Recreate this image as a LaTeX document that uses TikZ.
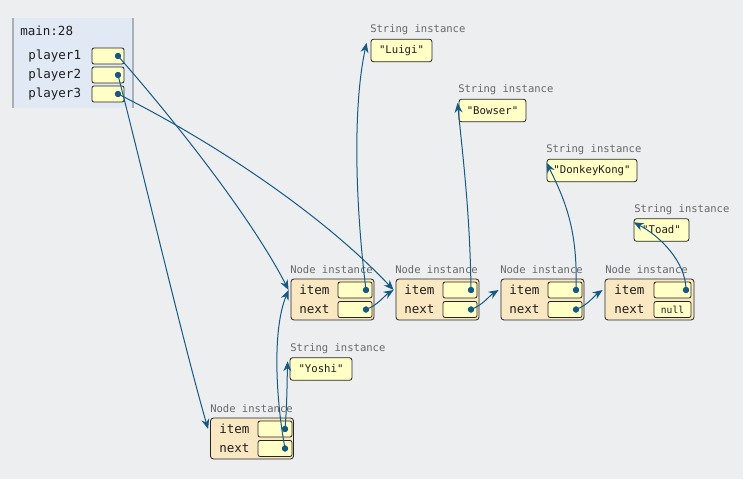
\documentclass[tikz,border=0pt]{standalone}
\usepackage{fontspec}
\setmonofont{DejaVu Sans Mono}
\usetikzlibrary{arrows.meta}
\definecolor{bg}{HTML}{EDEEF0}
\definecolor{framefill}{HTML}{E1E9F5}
\definecolor{frameline}{HTML}{A9B0B8}
\definecolor{valfill}{HTML}{FFFFC6}
\definecolor{objfill}{HTML}{FAE8C2}
\definecolor{ptrc}{HTML}{145A86}
\definecolor{graylbl}{HTML}{686868}
\definecolor{txt}{HTML}{1E1E1E}
\begin{document}
\begin{tikzpicture}[x=0.75pt,y=-0.75pt,
  every node/.style={text=txt},
  varbox/.style={draw=black!85, fill=valfill, rounded corners=1.5pt, minimum width=24pt, minimum height=12pt, inner sep=0pt, line width=0.6pt},
  objbox/.style={draw=black!85, fill=objfill, rounded corners=2.2pt, minimum width=62.25pt, minimum height=30.75pt, inner sep=0pt, line width=0.6pt},
  fieldbox/.style={draw=black!85, fill=valfill, rounded corners=1.5pt, minimum width=25.5pt, minimum height=12pt, inner sep=0pt, line width=0.6pt},
  strbox/.style={draw=black!85, fill=valfill, rounded corners=2pt, minimum height=17pt, inner sep=0pt, line width=0.6pt, font=\ttfamily\fontsize{8}{10}\selectfont},
  graylabel/.style={text=graylbl, anchor=west, inner sep=0pt, font=\ttfamily\fontsize{7.9}{10}\selectfont},
  biglabel/.style={anchor=west, inner sep=0pt, font=\ttfamily\fontsize{9.4}{11}\selectfont},
  ptrdot/.style={circle, fill=ptrc, inner sep=0pt, minimum size=4.6pt},
  ptr/.style={draw=ptrc, line width=0.75pt, -{Stealth[length=7.5pt,width=6pt]}}
]
\useasboundingbox[fill=bg] (0,0) rectangle (743,479);

% frame
\fill[framefill] (13,18) rectangle (133,108);
\draw[frameline, line width=0.8pt] (13,18) -- (13,108);
\draw[frameline, line width=0.8pt] (133,18) -- (133,108);
\node[biglabel] (ftitle) at (20,31) {main:28};
\node[biglabel] (l1) at (28,56) {player1};
\node[biglabel] (l2) at (28,75) {player2};
\node[biglabel] (l3) at (28,94) {player3};
\node[varbox] (v1) at (108,56) {};
\node[varbox] (v2) at (108,75) {};
\node[varbox] (v3) at (108,94) {};

% Node instances
\foreach \k/\cx in {1/332.5, 2/437.5, 3/542.5}{
  \node[graylabel] (h\k) at (\cx-42.5,270) {Node instance};
  \node[objbox] (n\k) at (\cx,299.5) {};
  \node[biglabel] (ti\k) at (\cx-33.5,290) {item};
  \node[biglabel] (tn\k) at (\cx-33.5,309.5) {next};
  \node[fieldbox] (fi\k) at (\cx+22.5,290) {};
  \node[fieldbox] (fn\k) at (\cx+22.5,309.5) {};
}
\node[graylabel] (h4) at (605,270) {Node instance};
\node[objbox, minimum width=66.75pt] (n4) at (649.5,299.5) {};
\node[biglabel] (ti4) at (614,290) {item};
\node[biglabel] (tn4) at (614,309.5) {next};
\node[fieldbox, minimum width=27.75pt] (fi4) at (672.5,290) {};
\node[fieldbox, minimum width=27.75pt, font=\ttfamily\fontsize{7.2}{9}\selectfont] (fn4) at (672.5,309.5) {null};

\node[graylabel] (h5) at (210,409) {Node instance};
\node[objbox] (n5) at (252,438.5) {};
\node[biglabel] (ti5) at (219,429) {item};
\node[biglabel] (tn5) at (219,448.5) {next};
\node[fieldbox] (fi5) at (275,429) {};
\node[fieldbox] (fn5) at (275,448.5) {};

% String instances
\node[graylabel] (sl1) at (370,30) {String instance};
\node[strbox, minimum width=45.75pt] (luigi) at (401.5,50.5) {"Luigi"};
\node[graylabel] (sl2) at (458,90) {String instance};
\node[strbox, minimum width=50.25pt] (bowser) at (492.5,110.5) {"Bowser"};
\node[graylabel] (sl3) at (546,150) {String instance};
\node[strbox, minimum width=67.5pt] (dk) at (592,170.5) {"DonkeyKong"};
\node[graylabel] (sl4) at (634,210) {String instance};
\node[strbox, minimum width=41.25pt] (toad) at (661.5,230) {"Toad"};
\node[graylabel] (sl5) at (290,349) {String instance};
\node[strbox, minimum width=46.5pt] (yoshi) at (321,369) {"Yoshi"};

% dots
\node[ptrdot] (d1) at (118,56) {};
\node[ptrdot] (d2) at (118,75) {};
\node[ptrdot] (d3) at (118,94) {};
\foreach \k/\dx in {1/366, 2/471, 3/576}{
  \node[ptrdot] (di\k) at (\dx,290) {};
  \node[ptrdot] (dn\k) at (\dx,309.5) {};
}
\node[ptrdot] (di4) at (686,290) {};
\node[ptrdot] (di5) at (285,429) {};
\node[ptrdot] (dn5) at (285,448.5) {};

% pointers
\draw[ptr] (d1.center) .. controls (170,115) and (250,215) .. ([shift={(-2,-9.5)}]n1.west);
\draw[ptr] (d2.center) .. controls (140,160) and (185,350) .. ([shift={(-2,-9.5)}]n5.west);
\draw[ptr] (d3.center) .. controls (210,140) and (320,212) .. ([shift={(-2,-9.5)}]n2.west);
\draw[ptr] (di1.center) .. controls (356,210) and (352,110) .. ([shift={(-4,4)}]luigi.north west);
\draw[ptr] (dn1.center) .. controls (378,305) and (384,296) .. ([shift={(-2,-9.5)}]n2.west);
\draw[ptr] (di2.center) .. controls (470,210) and (462,150) .. ([shift={(-1,4)}]bowser.north west);
\draw[ptr] (dn2.center) .. controls (483,305) and (489,296) .. ([shift={(-2,-9.5)}]n3.west);
\draw[ptr] (di3.center) .. controls (578,230) and (565,200) .. ([shift={(0,4)}]dk.north west);
\draw[ptr] (dn3.center) .. controls (588,305) and (594,296) .. ([shift={(-2,-9.5)}]n4.west);
\draw[ptr] (di4.center) .. controls (686,262) and (660,236) .. ([shift={(0,4)}]toad.north west);
\draw[ptr] (di5.center) .. controls (287,405) and (287,385) .. ([shift={(-2,4)}]yoshi.north west);
\draw[ptr] (dn5.center) .. controls (276,400) and (272,330) .. ([shift={(-2,-9.5)}]n1.west);

% dots on top
\foreach \n in {d1,d2,d3,di1,dn1,di2,dn2,di3,dn3,di4,di5,dn5}{
  \fill[ptrc] (\n.center) circle (2.3pt);
}
\end{tikzpicture}
\end{document}
